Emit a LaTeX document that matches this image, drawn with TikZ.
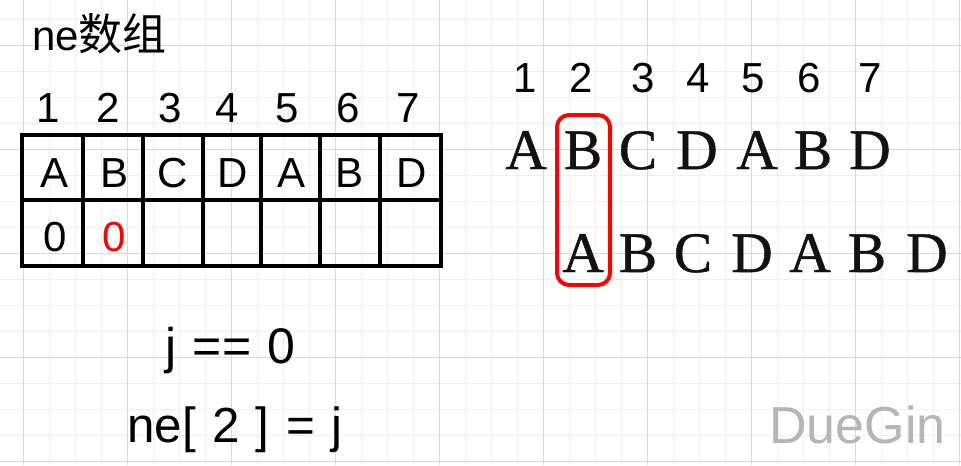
\documentclass[tikz,border=0pt]{standalone}
\usepackage{fontspec}
\setmainfont{Liberation Sans}
\newfontfamily\serifA[FakeBold=0.8]{Liberation Serif}
\newfontfamily\cjk{Noto Sans CJK SC}
\definecolor{gridmajor}{HTML}{D9D9D9}
\definecolor{gridminor}{HTML}{EFEFEF}
\definecolor{wmgray}{HTML}{B5B5B5}
\begin{document}
\begin{tikzpicture}[x=0.75pt,y=-0.75pt,
  sanslbl/.style={inner sep=0pt,anchor=base,font=\fontsize{31.5}{36}\selectfont},
  seriflbl/.style={inner sep=0pt,anchor=base,font=\serifA\fontsize{43}{48}\selectfont,text=black!93},
  tableline/.style={line width=3pt,black},
  redbox/.style={draw=red,line width=3pt,rounded corners=9pt}]
\useasboundingbox (0,0) rectangle (961,465);
\fill[white] (0,0) rectangle (961,465);
% grid
\foreach \i in {0,...,37} {\draw[gridminor,line width=0.75pt] ({-3+26*\i},0) -- ({-3+26*\i},465);}
\foreach \i in {0,...,17} {\draw[gridminor,line width=0.75pt] (0,{19.7+26*\i}) -- (961,{19.7+26*\i});}
\foreach \i in {0,...,9} {\draw[gridmajor,line width=0.75pt] ({23+104*\i},0) -- ({23+104*\i},465);}
\foreach \i in {0,...,4} {\draw[gridmajor,line width=0.75pt] (0,{45.7+104*\i}) -- (961,{45.7+104*\i});}
% title
\node[inner sep=0pt,anchor=base west,font=\fontsize{31.5}{36}\selectfont] (title) at (32,50) {ne{\cjk\fontsize{33}{36}\selectfont 数组}};
% column indices left
\foreach \n/\x in {1/48,2/108,3/170,4/227,5/287,6/348,7/408}
  \node[sanslbl] (li\n) at (\x,122) {\n};
% table
\draw[tableline] (22,135) rectangle (441,266);
\draw[tableline] (22,199.5) -- (441,199.5);
\foreach \x in {83,143,203,261,320,380} \draw[tableline] (\x,135) -- (\x,266);
\foreach \n/\x/\t in {1/55/A,2/115/B,3/173/C,4/233/D,5/292/A,6/350/B,7/412/D}
  \node[sanslbl] (ta\n) at (\x,187) {\t};
\node[sanslbl] (tb1) at (55,251) {0};
\node[sanslbl,text=red] (tb2) at (114,251) {0};
% right indices
\foreach \n/\x in {1/525,2/581,3/643,4/698,5/753,6/809,7/870}
  \node[sanslbl] (ri\n) at (\x,92) {\n};
% text string
\foreach \n/\x/\t in {1/526/A,2/583/B,3/638/C,4/697/D,5/757/A,6/813/B,7/870/D}
  \node[seriflbl] (s\n) at (\x,169) {\t};
% pattern string
\foreach \n/\x/\t in {1/583/A,2/638/B,3/693/C,4/752/D,5/810/A,6/867/B,7/927/D}
  \node[seriflbl] (p\n) at (\x,272) {\t};
% red box
\draw[redbox] (557,115) rectangle (610,285);
% formulas
\node[inner sep=0pt,anchor=base west,font=\fontsize{37.5}{40}\selectfont] (eq1) at (165,363) {j\hspace{2pt} ==\hspace{2pt} 0};
\node[inner sep=0pt,anchor=base west,font=\fontsize{37}{40}\selectfont] (eq2) at (127,442) {ne[\hspace{2pt} 2\hspace{2pt} ]\hspace{2pt} =\hspace{2pt} j};
% watermark
\node[inner sep=0pt,anchor=base west,font=\fontsize{39}{44}\selectfont,text=wmgray] (wm) at (769,443) {DueGin};
\end{tikzpicture}
\end{document}
